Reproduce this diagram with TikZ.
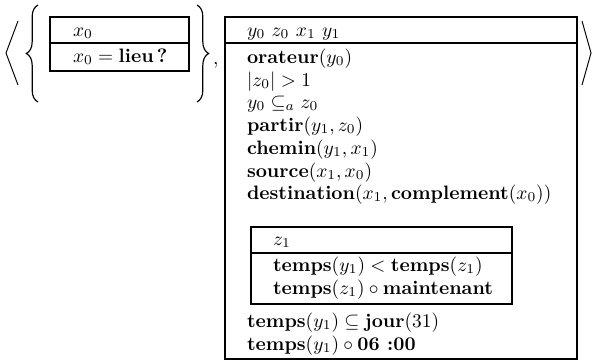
\documentclass[tikz,border=0pt]{standalone}
\usepackage{amsmath,amssymb}
\usetikzlibrary{decorations.pathreplacing}
\tikzset{
  drs/.style={line width=0.6pt, black},
  delim/.style={line width=0.5pt, black},
  setbrace/.style={line width=0.6pt, black, decorate, decoration={brace, amplitude=6pt}},
  cond/.style={anchor=base west, inner sep=0pt, outer sep=0pt}
}
\newcommand{\bb}[1]{\textbf{#1}}
\begin{document}
\begin{tikzpicture}[x=0.515pt, y=-0.515pt]
     \useasboundingbox (0,0) rectangle (593,363);
     % outer angle brackets
     \draw[delim] (18,21) -- (6,53) -- (18,85);
     \draw[delim] (582,21) -- (591,53) -- (582,85);
     % set of presupposition boxes
     \draw[setbrace] (38,102) -- (38,5);
     \draw[setbrace] (197,5) -- (197,102);
     \draw[drs] (50,17) rectangle (189,71);
     \draw[drs] (50,43) -- (189,43);
     \node[cond] (lvar) at (73,36) {$x_0$};
     \node[cond] (lcond) at (73,62) {$x_0 = \bb{lieu\,?}$};
     \node[cond] (comma) at (213,64) {$,$};
     % main box
     \draw[drs] (225,17) rectangle (577,359);
     \draw[drs] (225,43) -- (577,43);
     \node[cond] (hdr) at (247,36) {$y_0\ z_0\ x_1\ y_1$};
     \node[cond] (c1) at (247,63) {$\bb{orateur}(y_0)$};
     \node[cond] (c2) at (247,86) {$|z_0| > 1$};
     \node[cond] (c3) at (247,108) {$y_0 \subseteq_a z_0$};
     \node[cond] (c4) at (247,131) {$\bb{partir}(y_1,z_0)$};
     \node[cond] (c5) at (247,154) {$\bb{chemin}(y_1,x_1)$};
     \node[cond] (c6) at (247,177) {$\bb{source}(x_1,x_0)$};
     \node[cond] (c7) at (247,199) {$\bb{destination}(x_1,\bb{complement}(x_0))$};
     % embedded box
     \draw[drs] (251,227) rectangle (512,304);
     \draw[drs] (251,253) -- (512,253);
     \node[cond] (ivar) at (273,245) {$z_1$};
     \node[cond] (ic1) at (273,271) {$\bb{temps}(y_1) < \bb{temps}(z_1)$};
     \node[cond] (ic2) at (273,294) {$\bb{temps}(z_1) \circ \bb{maintenant}$};
     \node[cond] (c8) at (247,327) {$\bb{temps}(y_1) \subseteq \bb{jour}(31)$};
     \node[cond] (c9) at (247,350) {$\bb{temps}(y_1) \circ \bb{06 :00}$};
\end{tikzpicture}
\end{document}
